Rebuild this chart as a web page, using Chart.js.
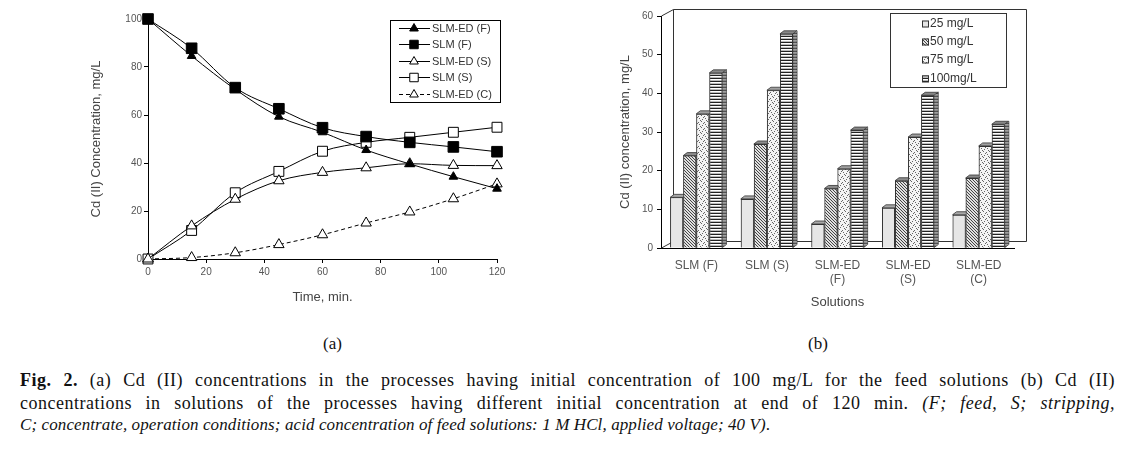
<!DOCTYPE html>
<html>
<head>
<meta charset="utf-8">
<script src="https://cdn.jsdelivr.net/npm/chart.js@4.4.0/dist/chart.umd.min.js"></script>
<style>
body { margin: 0; width: 1140px; height: 473px; background: #fff; position: relative; overflow: hidden; }
#chartA { position: absolute; left: 0; top: 0; }
#chartB { position: absolute; left: 580px; top: 0; }
.sub { position: absolute; top: 334px; font: 17px 'Liberation Serif', 'Times New Roman', serif; line-height: 20px; color: #111; }
#caption { position: absolute; left: 20px; top: 369px; width: 1095px; font-family: 'Liberation Serif', 'Times New Roman', serif; font-size: 18px; line-height: 22.5px; color: #111; }
#caption div { white-space: nowrap; }
#caption .j { text-align: justify; text-align-last: justify; letter-spacing: 0.5px; }
#caption .last { font-size: 17px; letter-spacing: 0.1px; }
</style>
</head>
<body>
<canvas id="chartA" width="560" height="320"></canvas>
<canvas id="chartB" width="560" height="320"></canvas>
<div class="sub" style="left:323px">(a)</div>
<div class="sub" style="left:808px">(b)</div>
<div id="caption">
  <div class="j"><b>Fig. 2.</b> (a) Cd (II) concentrations in the processes having initial concentration of 100 mg/L for the feed solutions (b) Cd (II)</div>
  <div class="j">concentrations in solutions of the processes having different initial concentration at end of 120 min. <i>(F; feed, S; stripping,</i></div>
  <div class="last"><i>C; concentrate, operation conditions; acid concentration of feed solutions: 1 M HCl, applied voltage; 40 V)</i>.</div>
</div>
<script>
// (a) concentration vs time
const timeMin = [0, 15, 30, 45, 60, 75, 90, 105, 120];
const slmEdFeed = [100, 84.6, 70.7, 59.3, 52.8, 45.4, 39.6, 34.3, 29.3];
const slmFeed = [100, 87.8, 71.4, 62.6, 54.7, 51.0, 48.6, 46.7, 44.7];
const slmEdStrip = [0, 13.8, 24.9, 32.6, 36.1, 38.0, 39.7, 39.0, 38.9];
const slmStrip = [0, 11.9, 27.6, 36.5, 44.9, 48.6, 50.7, 52.8, 54.9];
const slmEdConc = [0, 0.6, 2.6, 6.0, 10.1, 15.0, 19.6, 25.1, 31.3];
const seriesNames = ['SLM-ED (F)', 'SLM (F)', 'SLM-ED (S)', 'SLM (S)', 'SLM-ED (C)'];

// (b) concentration at end of 120 min
const solutions = [['SLM (F)'], ['SLM (S)'], ['SLM-ED', '(F)'], ['SLM-ED', '(S)'], ['SLM-ED', '(C)']];
const initConc = ['25 mg/L', '50 mg/L', '75 mg/L', '100mg/L'];
const conc25 = [13.1, 12.7, 6.2, 10.4, 8.6];
const conc50 = [23.9, 26.9, 15.4, 17.4, 18.1];
const conc75 = [34.7, 40.8, 20.5, 28.7, 26.4];
const conc100 = [45.3, 55.4, 30.5, 39.5, 32.0];

Chart.defaults.font.family = "'Liberation Sans', Arial, sans-serif";
Chart.defaults.color = '#555';

function marker(ctx, style, r, x, y, fill) {
    ctx.save();
    ctx.fillStyle = fill;
    ctx.strokeStyle = '#000';
    ctx.lineWidth = 1;
    ctx.setLineDash([]);
    ctx.beginPath();
    if (style === 'rect') {
        const s = r * Math.SQRT1_2;
        ctx.rect(x - s, y - s, 2 * s, 2 * s);
    } else {
        ctx.moveTo(x, y - r);
        ctx.lineTo(x + r * 0.866, y + r * 0.5);
        ctx.lineTo(x - r * 0.866, y + r * 0.5);
        ctx.closePath();
    }
    ctx.fill();
    ctx.stroke();
    ctx.restore();
}

function lineSet(label, values, style, fill, radius, dash) {
    return {
        label: label,
        data: timeMin.map((t, i) => ({ x: t, y: values[i] })),
        borderColor: '#000',
        borderWidth: 1,
        borderDash: dash || [],
        pointStyle: style,
        pointRadius: radius,
        pointBackgroundColor: fill,
        pointBorderColor: '#000',
        pointBorderWidth: 1,
        cubicInterpolationMode: 'monotone',
        fill: false,
        clip: false
    };
}

// legend box for (a)
const legendA = {
    id: 'legendA',
    afterDraw(chart) {
        const ctx = chart.ctx;
        ctx.save();
        ctx.strokeStyle = '#000';
        ctx.lineWidth = 1;
        ctx.strokeRect(390.5, 20.5, 110, 82);
        ctx.font = "11px 'Liberation Sans', Arial, sans-serif";
        ctx.textBaseline = 'middle';
        chart.data.datasets.forEach((ds, i) => {
            const y = Math.round(28 + i * 16.4) + 0.5;
            ctx.strokeStyle = '#000';
            ctx.setLineDash(ds.borderDash);
            ctx.beginPath();
            ctx.moveTo(399, y);
            ctx.lineTo(430, y);
            ctx.stroke();
            ctx.setLineDash([]);
            marker(ctx, ds.pointStyle, ds.pointStyle === 'rect' ? 6 : 5, 414, y, ds.pointBackgroundColor);
            ctx.fillStyle = '#333';
            ctx.fillText(ds.label, 432, y);
        });
        ctx.restore();
    }
};

new Chart(document.getElementById('chartA'), {
    type: 'line',
    data: {
        datasets: [
            lineSet(seriesNames[0], slmEdFeed, 'triangle', '#000', 5),
            lineSet(seriesNames[1], slmFeed, 'rect', '#000', 7.5),
            lineSet(seriesNames[2], slmEdStrip, 'triangle', '#fff', 6),
            lineSet(seriesNames[3], slmStrip, 'rect', '#fff', 7),
            lineSet(seriesNames[4], slmEdConc, 'triangle', '#fff', 6, [4, 3])
        ]
    },
    options: {
        responsive: false,
        animation: false,
        layout: { padding: { left: 85, right: 63, top: 19, bottom: 11 } },
        plugins: { legend: { display: false }, tooltip: { enabled: false } },
        scales: {
            x: {
                type: 'linear', min: 0, max: 120,
                ticks: { stepSize: 20, font: { size: 10 }, padding: 3 },
                grid: { drawOnChartArea: false, tickLength: 4, color: '#000' },
                border: { color: '#000' },
                title: { display: true, text: 'Time, min.', font: { size: 13 }, color: '#444' },
                afterFit(s) { s.height = 50; }
            },
            y: {
                min: 0, max: 100,
                ticks: { stepSize: 20, font: { size: 10 }, padding: 2 },
                grid: { drawOnChartArea: false, tickLength: 4, color: '#000' },
                border: { color: '#000' },
                title: { display: true, text: 'Cd (II) Concentration, mg/L', font: { size: 13 }, color: '#444' },
                afterFit(s) { s.width = 63; }
            }
        }
    },
    plugins: [legendA]
});

// fill patterns for (b)
const ctxB = document.getElementById('chartB').getContext('2d');
function makePattern(kind) {
    const c = document.createElement('canvas');
    const g = c.getContext('2d');
    if (kind === 0) {
        c.width = 4; c.height = 4;
        g.fillStyle = '#e6e6e6'; g.fillRect(0, 0, 4, 4);
    } else if (kind === 1) {
        c.width = 3; c.height = 3;
        g.fillStyle = '#e0e0e0'; g.fillRect(0, 0, 3, 3);
        g.fillStyle = '#444';
        for (let i = 0; i < 3; i++) g.fillRect(i, i, 1, 1);
    } else if (kind === 2) {
        c.width = 6; c.height = 6;
        g.fillStyle = '#f4f4f4'; g.fillRect(0, 0, 6, 6);
        g.fillStyle = '#666';
        [[0, 0], [1, 1], [3, 3], [4, 2], [2, 5], [5, 4]].forEach(p => g.fillRect(p[0], p[1], 1, 1));
    } else {
        c.width = 2; c.height = 3;
        g.fillStyle = '#fff'; g.fillRect(0, 0, 2, 3);
        g.fillStyle = '#222'; g.fillRect(0, 0, 2, 1);
        g.fillStyle = '#bbb'; g.fillRect(0, 2, 2, 1);
    }
    return ctxB.createPattern(c, 'repeat');
}
const fills = [0, 1, 2, 3].map(makePattern);
const topColors = ['#a8a8a8', '#8c8c8c', '#a0a0a0', '#888'];
const sideColors = ['#9a9a9a', '#7a7a7a', '#8e8e8e', '#6e6e6e'];

const bar3d = {
    id: 'bar3d',
    beforeDatasetsDraw(chart) {
        const ctx = chart.ctx, a = chart.chartArea;
        const ox = 12, oy = 7;
        ctx.save();
        ctx.strokeStyle = '#333';
        ctx.lineWidth = 1;
        ctx.beginPath();
        ctx.moveTo(a.left + 0.5, a.top);
        ctx.lineTo(a.left + ox + 0.5, a.top - oy + 0.5);
        ctx.lineTo(a.right + ox + 0.5, a.top - oy + 0.5);
        ctx.lineTo(a.right + ox + 0.5, a.bottom - oy + 0.5);
        ctx.lineTo(a.left + ox + 0.5, a.bottom - oy + 0.5);
        ctx.lineTo(a.left + ox + 0.5, a.top - oy + 0.5);
        ctx.moveTo(a.left + 0.5, a.bottom);
        ctx.lineTo(a.left + ox + 0.5, a.bottom - oy + 0.5);
        ctx.stroke();
        ctx.restore();
    },
    afterDatasetsDraw(chart) {
        const ctx = chart.ctx;
        const dx = 4, dy = 3;
        ctx.save();
        ctx.strokeStyle = '#333';
        ctx.lineWidth = 0.8;
        for (let j = 0; j < chart.data.labels.length; j++) {
            chart.data.datasets.forEach((ds, i) => {
                const bar = chart.getDatasetMeta(i).data[j];
                bar.draw(ctx);
                const l = bar.x - bar.width / 2, r = bar.x + bar.width / 2, t = bar.y, b = bar.base;
                ctx.fillStyle = topColors[i];
                ctx.beginPath();
                ctx.moveTo(l, t); ctx.lineTo(l + dx, t - dy); ctx.lineTo(r + dx, t - dy); ctx.lineTo(r, t);
                ctx.closePath(); ctx.fill(); ctx.stroke();
                ctx.fillStyle = sideColors[i];
                ctx.beginPath();
                ctx.moveTo(r, t); ctx.lineTo(r + dx, t - dy); ctx.lineTo(r + dx, b - dy); ctx.lineTo(r, b);
                ctx.closePath(); ctx.fill(); ctx.stroke();
                ctx.fillStyle = fills[i];
                ctx.globalAlpha = 0.35;
                ctx.fill();
                ctx.globalAlpha = 1;
            });
        }
        ctx.restore();
    },
    afterDraw(chart) {
        const ctx = chart.ctx;
        ctx.save();
        ctx.strokeStyle = '#333';
        ctx.lineWidth = 1;
        ctx.fillStyle = '#fff';
        ctx.fillRect(310.5, 13.5, 116, 74);
        ctx.strokeRect(310.5, 13.5, 116, 74);
        ctx.font = "12px 'Liberation Sans', Arial, sans-serif";
        ctx.textBaseline = 'middle';
        chart.data.datasets.forEach((ds, i) => {
            const y = Math.round(24 + i * 18.2);
            ctx.fillStyle = fills[i];
            ctx.fillRect(342, y - 3.5, 7, 7);
            ctx.strokeRect(342.5, y - 3, 6, 6);
            ctx.fillStyle = '#333';
            ctx.fillText(ds.label, 350, y);
        });
        ctx.restore();
    }
};

const concSeries = [conc25, conc50, conc75, conc100];
new Chart(ctxB, {
    type: 'bar',
    data: {
        labels: solutions,
        datasets: initConc.map((lab, i) => ({
            label: lab,
            data: concSeries[i],
            backgroundColor: fills[i],
            borderColor: '#333',
            borderWidth: 1,
            categoryPercentage: 0.74,
            barPercentage: 1
        }))
    },
    options: {
        responsive: false,
        animation: false,
        layout: { padding: { left: 34, right: 126, top: 16, bottom: 6 } },
        plugins: { legend: { display: false }, tooltip: { enabled: false } },
        scales: {
            x: {
                ticks: { font: { size: 12 }, padding: 10 },
                grid: { display: false, drawTicks: false },
                border: { color: '#000' },
                title: { display: true, text: 'Solutions', font: { size: 13 }, color: '#444' },
                afterFit(s) { s.height = 66; }
            },
            y: {
                min: 0, max: 60,
                ticks: { stepSize: 10, font: { size: 10 }, padding: 4 },
                grid: { drawOnChartArea: false, tickLength: 4, color: '#000' },
                border: { color: '#000' },
                title: { display: true, text: 'Cd (II) concentration, mg/L', font: { size: 13 }, color: '#444' },
                afterFit(s) { s.width = 47; }
            }
        }
    },
    plugins: [bar3d]
});
</script>
</body>
</html>
